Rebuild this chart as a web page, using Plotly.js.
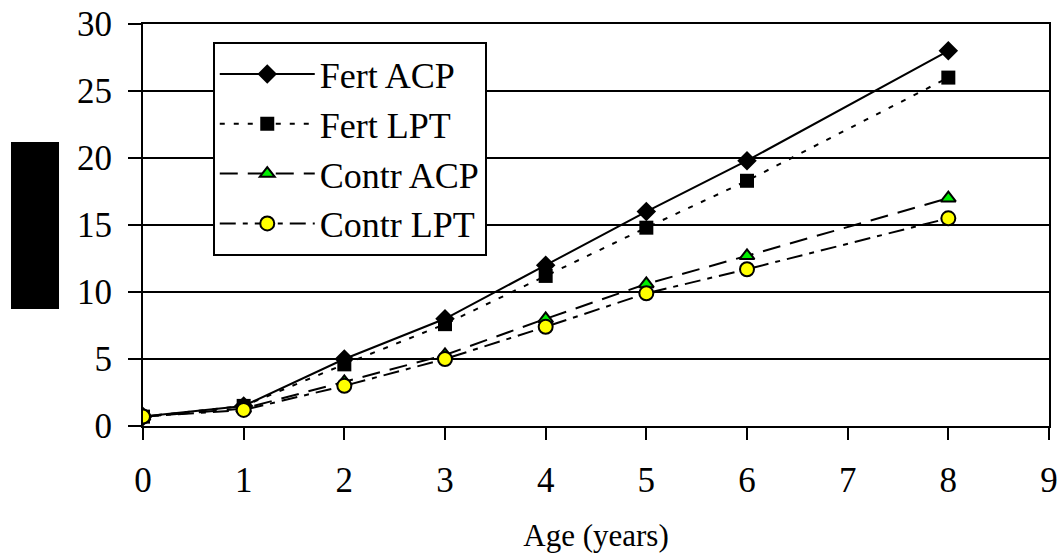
<!DOCTYPE html>
<html><head><meta charset="utf-8">
<script src="https://cdn.plot.ly/plotly-3.0.1.min.js"></script>
<style>html,body{margin:0;padding:0;background:#fff;}#chart{width:1059px;height:559px;}</style>
</head><body><div id="chart"></div>
<script>
const ages = [0, 1, 2, 3, 4, 5, 6, 8];
const fertACP = [0.7, 1.5, 5.0, 8.0, 12.0, 16.0, 19.8, 28.0];
const fertLPT = [0.7, 1.5, 4.6, 7.6, 11.2, 14.8, 18.3, 26.0];
const contrACP = [0.7, 1.3, 3.3, 5.3, 8.0, 10.6, 12.7, 17.0];
const contrLPT = [0.7, 1.2, 3.0, 5.0, 7.4, 9.9, 11.7, 15.5];
const seriesNames = ['Fert ACP', 'Fert LPT', 'Contr ACP', 'Contr LPT'];
const xTicks = [0,1,2,3,4,5,6,7,8,9];
const yTicks = [0,5,10,15,20,25,30];

const font = '"Liberation Serif", "DejaVu Serif", serif';
const traces = [
  {x: ages, y: fertACP, name: seriesNames[0], mode: 'lines+markers',
   line: {color: '#000', width: 2, dash: 'solid'},
   marker: {symbol: 'diamond', size: 15, color: '#000'}},
  {x: ages, y: fertLPT, name: seriesNames[1], mode: 'lines+markers',
   line: {color: '#000', width: 2, dash: '5px,9px'},
   marker: {symbol: 'square', size: 14, color: '#000'}},
  {x: ages, y: contrACP, name: seriesNames[2], mode: 'lines+markers',
   line: {color: '#000', width: 2, dash: '18px,10px'},
   marker: {symbol: 'triangle-up', size: 13, color: '#00ee00', line: {color: '#000', width: 2}}},
  {x: ages, y: contrLPT, name: seriesNames[3], mode: 'lines+markers',
   line: {color: '#000', width: 2, dash: '16px,7px,5px,7px'},
   marker: {symbol: 'circle', size: 14, color: '#ffff00', line: {color: '#000', width: 2}}}
];

const layout = {
  width: 1059, height: 559,
  margin: {l: 143, r: 10, t: 24, b: 133},
  paper_bgcolor: '#fff', plot_bgcolor: '#fff',
  font: {family: font, color: '#000', size: 35},
  showlegend: true,
  legend: {x: 0.077, y: 0.955, xanchor: 'left', yanchor: 'top',
    bgcolor: '#fff', bordercolor: '#000', borderwidth: 2,
    font: {family: font, size: 36, color: '#000'}, tracegroupgap: 0, itemwidth: 95},
  xaxis: {range: [0, 9], tickvals: xTicks, ticktext: xTicks.map(String),
    showgrid: false, zeroline: false, showline: true, linecolor: '#000', linewidth: 2,
    mirror: true, ticks: 'outside', ticklen: 12, tickwidth: 2, tickcolor: '#000',
    ticklabelstandoff: 10,
    tickfont: {family: font, size: 35, color: '#000'},
    title: {text: 'Age (years)', font: {family: font, size: 31, color: '#000'}, standoff: 25}},
  yaxis: {range: [0, 30], tickvals: yTicks, ticktext: yTicks.map(String),
    showgrid: true, gridcolor: '#000', gridwidth: 2, zeroline: false,
    showline: true, linecolor: '#000', linewidth: 2, mirror: true,
    ticks: 'outside', ticklen: 13, tickwidth: 2, tickcolor: '#000',
    ticklabelstandoff: 9,
    tickfont: {family: font, size: 35, color: '#000'}},
  shapes: [{type: 'rect', xref: 'paper', yref: 'paper',
    x0: -0.1457, x1: -0.0927, y0: 0.291, y1: 0.7065,
    fillcolor: '#000', line: {width: 0}}]
};
Plotly.newPlot('chart', traces, layout, {displayModeBar: false, staticPlot: true});
</script></body></html>
